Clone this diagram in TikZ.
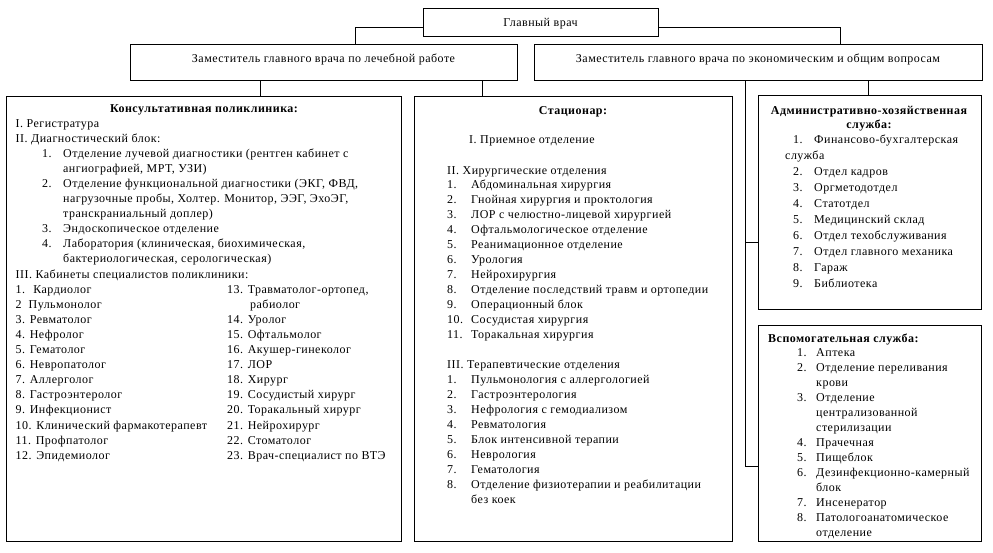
\documentclass[tikz,border=0pt]{standalone}
\usepackage{fontspec}
\setmainfont{Liberation Serif}[LetterSpace=4]
\newcommand\myfs{\fontsize{12}{14}\selectfont}
\newcommand\myitem[6]{\node[txt] (#1n) at (#2,#4) {#5}; \node[txt] (#1t) at (#3,#4) {#6};}
\begin{document}
\begin{tikzpicture}[x=1pt,y=-1pt,
  box/.style={draw, line width=0.8pt, inner sep=0pt},
  txt/.style={anchor=base west, inner sep=0pt, font=\myfs},
  ctxt/.style={anchor=base, inner sep=0pt, font=\myfs},
  btxt/.style={anchor=base, inner sep=0pt, font=\myfs\bfseries},
  conn/.style={line width=0.8pt}]
\useasboundingbox (0,0) rectangle (993,552);
% boxes
\node[box, minimum width=235pt, minimum height=28pt] (chief) at (540.5,22) {};
\node[box, minimum width=387pt, minimum height=36pt] (zl) at (323.5,62) {};
\node[box, minimum width=448pt, minimum height=36pt] (ze) at (758,62) {};
\node[box, minimum width=395pt, minimum height=445pt] (poly) at (203.5,318.5) {};
\node[box, minimum width=318pt, minimum height=445pt] (stac) at (573,318.5) {};
\node[box, minimum width=223pt, minimum height=214pt] (adm) at (869.5,202) {};
\node[box, minimum width=223pt, minimum height=216pt] (vsp) at (869.5,433) {};
% connectors
\draw[conn] ([yshift=-5pt]chief.west) -| ([xshift=31.5pt]zl.north);
\draw[conn] ([yshift=-5pt]chief.east) -| ([xshift=82pt]ze.north);
\coordinate (zla) at ([xshift=-63.5pt]zl.south);
\coordinate (zlb) at ([xshift=158.5pt]zl.south);
\draw[conn] (zla) -- (zla |- poly.north);
\draw[conn] (zlb) -- (zlb |- stac.north);
\coordinate (zea) at ([xshift=110pt]ze.south);
\draw[conn] (zea) -- (zea |- adm.north);
\coordinate (trunk) at ([xshift=-13pt]ze.south);
\coordinate (admin) at ([yshift=-40pt]adm.west);
\coordinate (vspin) at ([yshift=-33pt]vsp.west);
\draw[conn] (trunk) |- (vspin);
\draw[conn] (trunk |- admin) -- (admin);
% top texts
\node[ctxt] (chieft) at (540.5,26) {Главный врач};
\node[ctxt] (zlt) at (323.5,62) {Заместитель главного врача по лечебной работе};
\node[ctxt] (zet) at (758,62) {Заместитель главного врача по экономическим и общим вопросам};
% poly
\node[btxt] (polyt) at (204,112) {Консультативная поликлиника:};
\node[txt] (p0) at (15.5,127) {I. Регистратура};
\node[txt] (p1) at (15.5,142.1) {II. Диагностический блок:};
\myitem{p2}{42}{63}{157.2}{1.}{Отделение лучевой диагностики (рентген кабинет с}
\node[txt] (p3) at (63,172.3) {ангиографией, МРТ, УЗИ)};
\myitem{p4}{42}{63}{187.4}{2.}{Отделение функциональной диагностики (ЭКГ, ФВД,}
\node[txt] (p5) at (63,202.5) {нагрузочные пробы, Холтер. Монитор, ЭЭГ, ЭхоЭГ,};
\node[txt] (p6) at (63,217.6) {транскраниальный доплер)};
\myitem{p7}{42}{63}{232.7}{3.}{Эндоскопическое отделение}
\myitem{p8}{42}{63}{247.8}{4.}{Лаборатория (клиническая, биохимическая,}
\node[txt] (p9) at (63,262.9) {бактериологическая, серологическая)};
\node[txt] (p10) at (15.5,278) {III. Кабинеты специалистов поликлиники:};
\foreach \t [count=\i from 0] in {1.~ Кардиолог, 2~ Пульмонолог, 3. Ревматолог, 4. Нефролог, 5. Гематолог, 6. Невропатолог, 7. Аллерголог, 8. Гастроэнтеролог, 9. Инфекционист, 10. Клинический фармакотерапевт, 11. Профпатолог, 12. Эпидемиолог}
  \node[txt] (pa\i) at (15.5,{293.1+15.1*\i}) {\t};
\node[txt] (pb13) at (227,293.1) {13. Травматолог-ортопед,};
\node[txt] (pb13b) at (250,308.2) {рабиолог};
\foreach \t [count=\i from 0] in {14. Уролог, 15. Офтальмолог, 16. Акушер-гинеколог, 17. ЛОР, 18. Хирург, 19. Сосудистый хирург, 20. Торакальный хирург, 21. Нейрохирург, 22. Стоматолог, 23. Врач-специалист по ВТЭ}
  \node[txt] (pb\i) at (227,{323.3+15.1*\i}) {\t};
% stac
\node[btxt] (stact) at (573,114) {Стационар:};
\node[txt] (s0) at (469,143) {I. Приемное отделение};
\node[txt] (s1) at (447,174) {II. Хирургические отделения};
\foreach \t [count=\i] in {Абдоминальная хирургия, Гнойная хирургия и проктология, ЛОР с челюстно-лицевой хирургией, Офтальмологическое отделение, Реанимационное отделение, Урология, Нейрохирургия, Отделение последствий травм и ортопедии, Операционный блок, Сосудистая хирургия, Торакальная хирургия}
  {\node[txt] (sn\i) at (447,{188+15*(\i-1)}) {\i.};
   \node[txt] (st\i) at (471,{188+15*(\i-1)}) {\t};}
\node[txt] (s2) at (447,368) {III. Терапевтические отделения};
\foreach \t [count=\i] in {Пульмонология с аллергологией, Гастроэнтерология, Нефрология с гемодиализом, Ревматология, Блок интенсивной терапии, Неврология, Гематология, Отделение физиотерапии и реабилитации}
  {\node[txt] (tn\i) at (447,{383+15*(\i-1)}) {\i.};
   \node[txt] (tt\i) at (471,{383+15*(\i-1)}) {\t};}
\node[txt] (s3) at (471,503) {без коек};
% adm
\node[btxt] (admt1) at (869,114) {Административно-хозяйственная};
\node[btxt] (admt2) at (869,128) {служба:};
\myitem{a1}{793}{814}{143}{1.}{Финансово-бухгалтерская}
\node[txt] (a1b) at (785,159) {служба};
\foreach \t [count=\i from 2] in {Отдел кадров, Оргметодотдел, Статотдел, Медицинский склад, Отдел техобслуживания, Отдел главного механика, Гараж, Библиотека}
  {\node[txt] (an\i) at (793,{175+16*(\i-2)}) {\i.};
   \node[txt] (at\i) at (814,{175+16*(\i-2)}) {\t};}
% vsp
\node[txt, font=\myfs\bfseries] (vspt) at (768,342) {Вспомогательная служба:};
\myitem{v1}{797}{816}{356}{1.}{Аптека}
\myitem{v2}{797}{816}{371}{2.}{Отделение переливания}
\node[txt] (v2b) at (816,386) {крови};
\myitem{v3}{797}{816}{401}{3.}{Отделение}
\node[txt] (v3b) at (816,416) {централизованной};
\node[txt] (v3c) at (816,431) {стерилизации};
\myitem{v4}{797}{816}{446}{4.}{Прачечная}
\myitem{v5}{797}{816}{461}{5.}{Пищеблок}
\myitem{v6}{797}{816}{476}{6.}{Дезинфекционно-камерный}
\node[txt] (v6b) at (816,491) {блок};
\myitem{v7}{797}{816}{506}{7.}{Инсенератор}
\myitem{v8}{797}{816}{521}{8.}{Патологоанатомическое}
\node[txt] (v8b) at (816,536) {отделение};
\end{tikzpicture}
\end{document}
